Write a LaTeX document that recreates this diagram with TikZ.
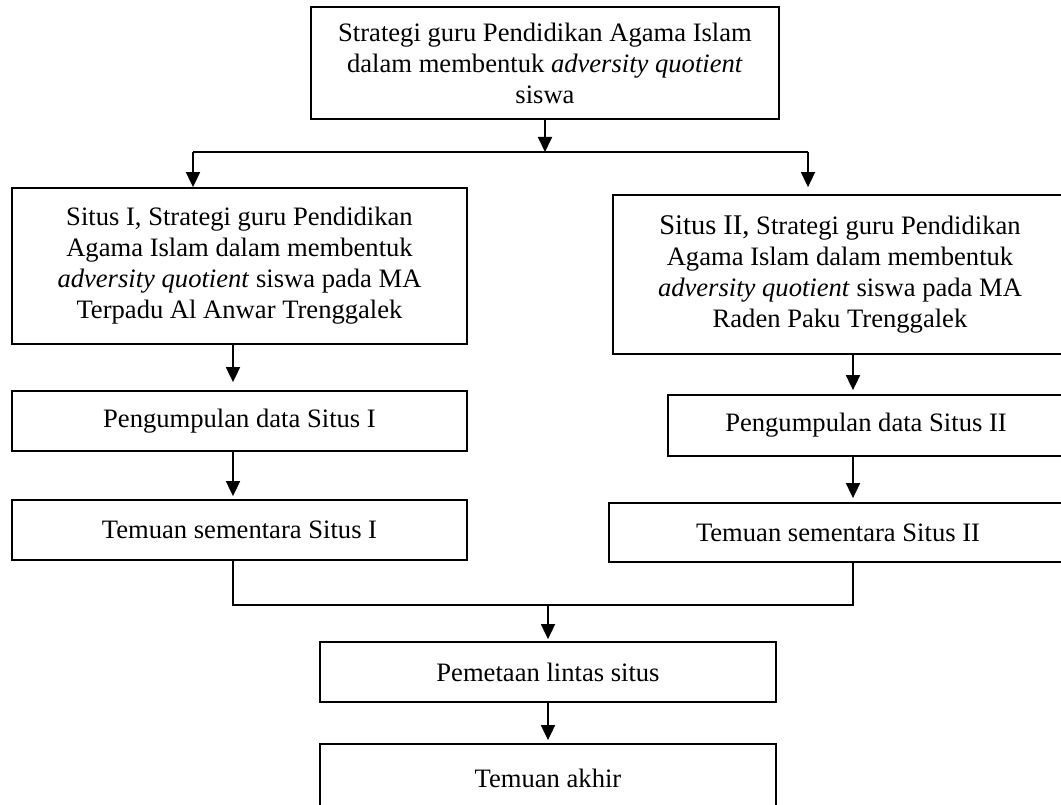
\documentclass[tikz,border=0pt]{standalone}
\usepackage{fontspec}
\setmainfont{Liberation Serif}
\usetikzlibrary{arrows.meta}
\begin{document}
\begin{tikzpicture}[x=1pt,y=-1pt,
  box/.style={draw, line width=1.8pt, inner sep=0pt, align=center, font=\fontsize{26.6}{31}\selectfont},
  arr/.style={line width=1.8pt, -{Triangle[width=14pt,length=15pt]}},
  ln/.style={line width=1.8pt}]
\useasboundingbox (0,0) rectangle (1061,805);
\clip (0,0) rectangle (1061,805);
\fill[white] (0,0) rectangle (1061,805);

\node[box, minimum width=468pt, minimum height=112pt] (top) at (545,63)
  {Strategi guru Pendidikan Agama Islam\\ dalam membentuk \textit{adversity quotient}\\ siswa};
\node[box, minimum width=455pt, minimum height=156pt] (L1) at (239.5,266)
  {Situs I, Strategi guru Pendidikan\\ Agama Islam dalam membentuk\\ \textit{adversity quotient} siswa pada MA\\ Terpadu Al Anwar Trenggalek};
\node[box, minimum width=454pt, minimum height=159pt] (R1) at (840,274.5)
  {{\fontsize{28.5}{31}\selectfont Situs II,} Strategi guru Pendidikan\\ Agama Islam dalam membentuk\\ \textit{adversity quotient} siswa pada MA\\ Raden Paku Trenggalek};
\node[box, minimum width=455pt, minimum height=60pt] (L2) at (239.5,421) {Pengumpulan data Situs I};
\node[box, minimum width=396pt, minimum height=61pt] (R2) at (866,425.5) {Pengumpulan data Situs II};
\node[box, minimum width=455pt, minimum height=60pt] (L3) at (239.5,530) {Temuan sementara Situs I};
\node[box, minimum width=458pt, minimum height=59pt] (R3) at (838,532.5) {Temuan sementara Situs II};
\node[box, minimum width=456pt, minimum height=60pt] (P) at (548,672) {Pemetaan lintas situs};
\node[box, minimum width=456pt, minimum height=68pt] (T) at (548,778) {Temuan akhir};

\coordinate (sl) at (193,152);
\coordinate (sr) at (808,152);
\coordinate (cl) at (233,605);
\coordinate (cr) at (853,605);
\coordinate (cm) at (548,605);

\draw[arr] (top.south) -- (top.south |- sl);
\draw[ln] (sl) -- (sr);
\draw[arr] (sl) -- (sl |- L1.north);
\draw[arr, shorten >=7pt] (sr) -- (sr |- R1.north);
\draw[arr, shorten >=8pt] (L1.south -| cl) -- (L2.north -| cl);
\draw[arr, shorten >=3pt] (L2.south -| cl) -- (L3.north -| cl);
\draw[arr, shorten >=4pt] (R1.south -| cr) -- (R2.north -| cr);
\draw[arr, shorten >=4pt] (R2.south -| cr) -- (R3.north -| cr);
\draw[ln] (L3.south -| cl) -- (cl) -- (cr) -- (R3.south -| cr);
\draw[arr, shorten >=2pt] (cm) -- (P.north -| cm);
\draw[arr, shorten >=3pt] (P.south -| cm) -- (T.north -| cm);
\end{tikzpicture}
\end{document}
